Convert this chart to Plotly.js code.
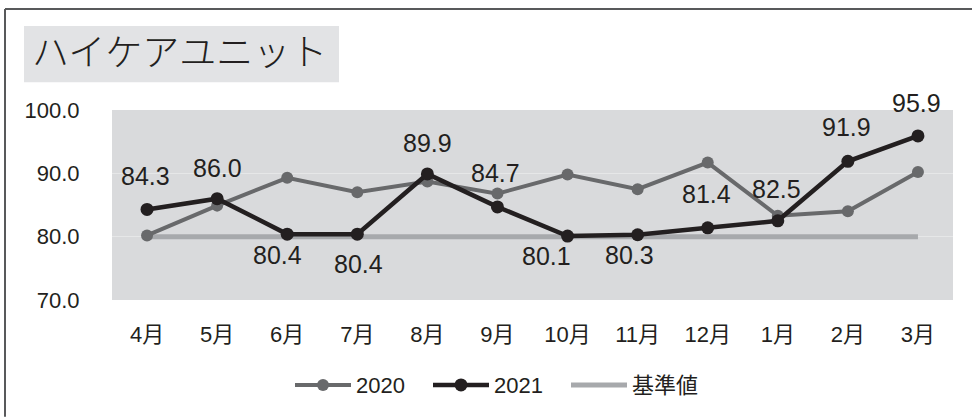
<!DOCTYPE html>
<html>
<head>
<meta charset="utf-8">
<script src="https://cdn.plot.ly/plotly-3.0.1.min.js"></script>
<style>
  html, body { margin: 0; padding: 0; background: #ffffff; }
  #chart { width: 972px; height: 418px; }
</style>
</head>
<body>
<div id="chart"></div>
<script>
// ---- data ----
const months = ["4月", "5月", "6月", "7月", "8月", "9月", "10月", "11月", "12月", "1月", "2月", "3月"];
const values2020 = [80.2, 84.9, 89.3, 87.0, 88.7, 86.8, 89.8, 87.5, 91.7, 83.3, 84.0, 90.2];
const values2021 = [84.3, 86.0, 80.4, 80.4, 89.9, 84.7, 80.1, 80.3, 81.4, 82.5, 91.9, 95.9];
const baseline = [80, 80, 80, 80, 80, 80, 80, 80, 80, 80, 80, 80];
const seriesNames = ["2020", "2021", "基準値"];
const chartTitle = "ハイケアユニット";
const yTicks = [70, 80, 90, 100];

// ---- label placement (styling, px offsets from each point) ----
const labelDy = [33, 31, -21, -30, 31, 34, -20, -20, 34, 32, 34, 33];
const labelDx = [-2, 0, -10, 1, 0, -2, -21, -8, -1, -1, -1, -1];

const FONT = "'Liberation Sans', Arial, 'Noto Sans CJK JP', sans-serif";
const TXT = "#231f20";
const W = 972, H = 418;
const M = { l: 112, r: 19, t: 110, b: 116 };
const PW = W - M.l - M.r, PH = H - M.t - M.b;
const px = x => (x - M.l) / PW;           // pixel -> paper x
const py = y => (H - M.b - y) / PH;       // pixel -> paper y

const traces = [
  {
    x: months, y: baseline, name: seriesNames[2], type: "scatter", mode: "lines",
    line: { color: "#a7a9ac", width: 5 }, legendrank: 3, hoverinfo: "skip"
  },
  {
    x: months, y: values2020, name: seriesNames[0], type: "scatter", mode: "lines+markers",
    line: { color: "#68696b", width: 4 }, marker: { color: "#68696b", size: 12 }, legendrank: 1
  },
  {
    x: months, y: values2021, name: seriesNames[1], type: "scatter", mode: "lines+markers",
    line: { color: "#231f20", width: 4.5 }, marker: { color: "#231f20", size: 13 }, legendrank: 2
  }
];

const annotations = values2021.map((v, i) => ({
  x: months[i], y: v, xref: "x", yref: "y",
  text: v.toFixed(1), showarrow: false,
  xanchor: "center", yanchor: "middle",
  xshift: labelDx[i], yshift: labelDy[i],
  font: { family: FONT, size: 25, color: TXT }
}));

const layout = {
  width: W, height: H,
  margin: M,
  paper_bgcolor: "#ffffff",
  plot_bgcolor: "#d9dadc",
  font: { family: FONT, color: TXT, size: 22 },
  title: {
    text: chartTitle,
    x: 32 / W, xanchor: "left", xref: "container",
    y: 1 - 53 / H, yanchor: "middle", yref: "container",
    font: { family: "'Noto Sans CJK JP', sans-serif", size: 37, color: TXT, weight: 300 }
  },
  xaxis: {
    type: "category", range: [-0.5, 11.5],
    showgrid: false, zeroline: false, showline: false,
    ticks: "outside", ticklen: 15, tickcolor: "rgba(0,0,0,0)",
    tickfont: { family: FONT, size: 22, color: TXT },
    fixedrange: true
  },
  yaxis: {
    range: [70, 100], tickvals: yTicks, tickformat: ".1f",
    showgrid: true, gridcolor: "#e6e7e8", gridwidth: 1.5,
    zeroline: false, showline: false,
    ticks: "outside", ticklen: 27, tickcolor: "rgba(0,0,0,0)",
    tickfont: { family: FONT, size: 22, color: TXT },
    fixedrange: true
  },
  showlegend: true,
  legend: {
    orientation: "h",
    x: px(290), xanchor: "left",
    y: py(388), yanchor: "middle",
    font: { family: FONT, size: 22, color: TXT },
    itemwidth: 56,
    entrywidth: 67, entrywidthmode: "pixels",
    bgcolor: "rgba(0,0,0,0)",
    traceorder: "normal"
  },
  shapes: [
    { type: "rect", xref: "paper", yref: "paper", layer: "below",
      x0: px(24), x1: px(339), y0: py(82), y1: py(25),
      fillcolor: "#e2e3e5", line: { width: 0 } },
    { type: "line", xref: "paper", yref: "paper",
      x0: px(5), x1: px(975), y0: py(8), y1: py(8),
      line: { color: "#58595b", width: 2 } },
    { type: "line", xref: "paper", yref: "paper",
      x0: px(5), x1: px(5), y0: py(8), y1: py(420),
      line: { color: "#58595b", width: 2 } }
  ],
  annotations: annotations
};

Plotly.newPlot("chart", traces, layout, { displayModeBar: false, staticPlot: true });
</script>
</body>
</html>
